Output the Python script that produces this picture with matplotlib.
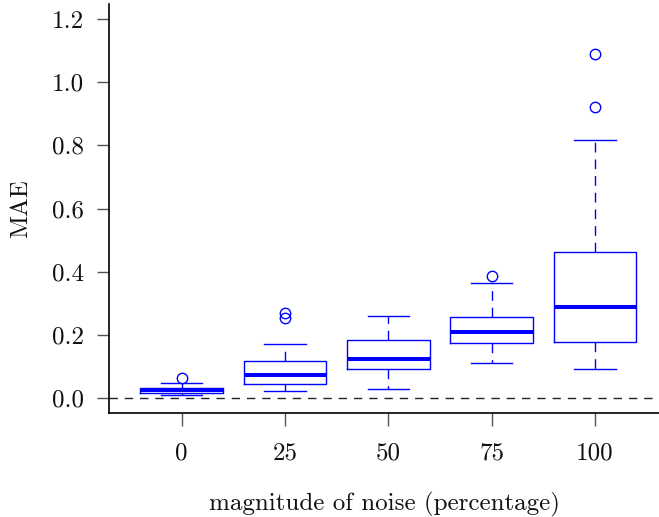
import matplotlib
matplotlib.use("Agg")
import matplotlib.pyplot as plt

# noise levels and box statistics
noise_levels = ["0", "25", "50", "75", "100"]
medians = [0.024, 0.072, 0.123, 0.209, 0.287]
q1 = [0.016, 0.044, 0.091, 0.173, 0.177]
q3 = [0.032, 0.116, 0.184, 0.255, 0.463]
whisker_low = [0.010, 0.021, 0.030, 0.110, 0.093]
whisker_high = [0.047, 0.172, 0.261, 0.363, 0.816]
outliers = [[0.063], [0.253, 0.268], [], [0.386], [0.922, 1.089]]

y_ticks = [0.0, 0.2, 0.4, 0.6, 0.8, 1.0, 1.2]

plt.rcParams["font.family"] = ["cmr10", "DejaVu Serif"]
plt.rcParams["axes.formatter.use_mathtext"] = True

fig = plt.figure(figsize=(6.59, 5.17), dpi=100)
ax = fig.add_axes([0.1654, 0.2012, 0.8346, 0.7908])

stats = []
for i, name in enumerate(noise_levels):
    stats.append({
        "label": name,
        "med": medians[i],
        "q1": q1[i],
        "q3": q3[i],
        "whislo": whisker_low[i],
        "whishi": whisker_high[i],
        "fliers": outliers[i],
    })

blue = "#0000ff"
ax.bxp(
    stats,
    positions=range(1, len(stats) + 1),
    widths=0.8,
    boxprops=dict(color=blue, linewidth=1.0),
    medianprops=dict(color=blue, linewidth=2.9, solid_capstyle="butt"),
    whiskerprops=dict(color=blue, linewidth=1.0, linestyle=(0, (7, 5))),
    capprops=dict(color=blue, linewidth=1.0),
    capwidths=0.4,
    flierprops=dict(marker="o", markerfacecolor="none", markeredgecolor=blue,
                    markersize=7.5, markeredgewidth=1.0),
)

ax.axhline(0, color="#222222", linewidth=1.0, linestyle=(0, (6, 5)), zorder=0)

ax.set_xlim(0.297, 5.619)
ax.set_ylim(-0.0475, 1.2476)
ax.set_yticks(y_ticks)
ax.set_yticklabels([f"{v:.1f}" for v in y_ticks])
ax.set_xticks(range(1, len(noise_levels) + 1))
ax.set_xticklabels(noise_levels)

for side in ["top", "right"]:
    ax.spines[side].set_visible(False)
for side in ["left", "bottom"]:
    ax.spines[side].set_linewidth(1.2)
    ax.spines[side].set_color("black")

ax.tick_params(axis="both", length=9, width=1, color="#555555",
               labelsize=18, labelcolor="#111111")
ax.tick_params(axis="y", pad=9)
ax.tick_params(axis="x", pad=12)

ax.set_xlabel("magnitude of noise (percentage)", fontsize=18, labelpad=20,
              color="#111111")
ax.set_ylabel("MAE", fontsize=18, labelpad=14, color="#111111")

fig.savefig("out.png", dpi=100)
